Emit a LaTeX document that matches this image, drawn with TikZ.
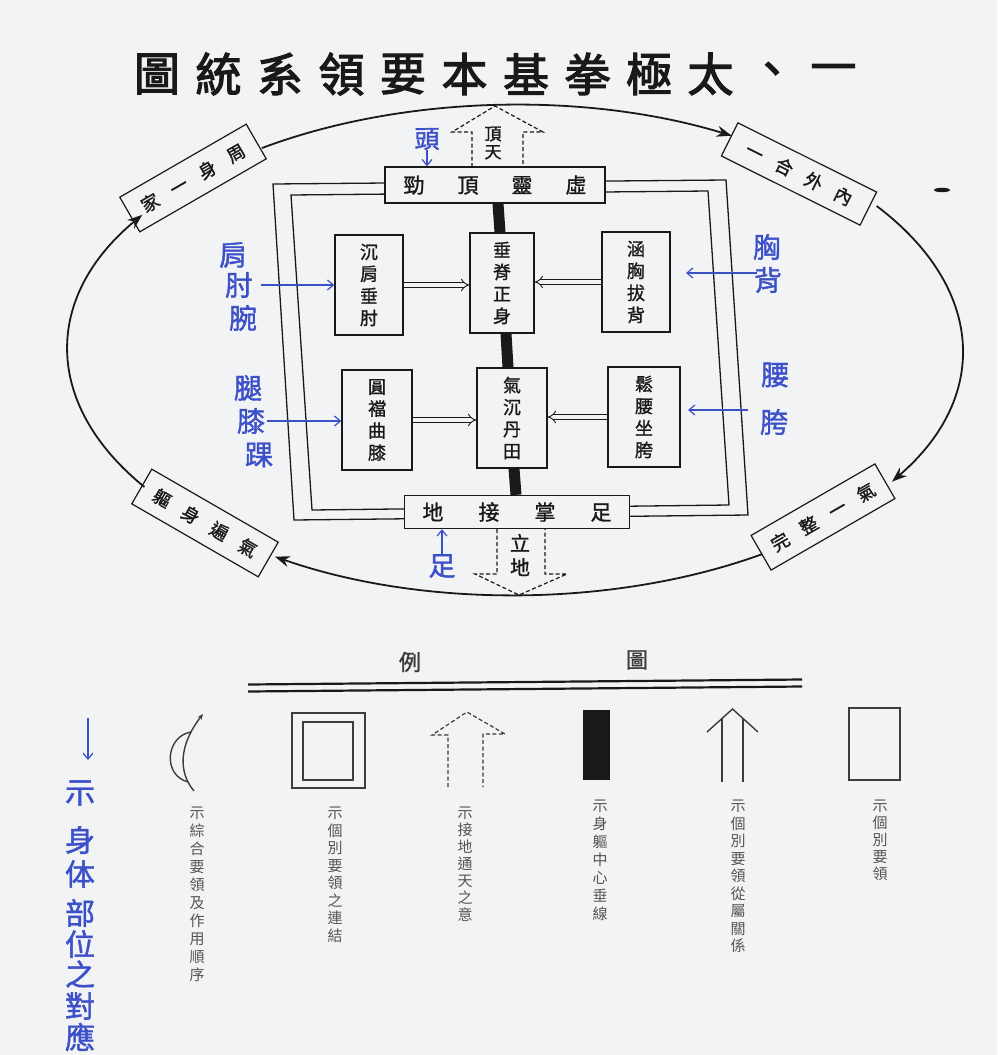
\documentclass[tikz,border=0pt]{standalone}
\usepackage{fontspec}
\usetikzlibrary{arrows.meta,calc}
\newfontfamily\cjkbox[FakeBold=1.2]{Noto Sans CJK TC}
\newfontfamily\cjktitle[FakeBold=2.5]{Noto Sans CJK TC}
\newfontfamily\cjkleg{Noto Sans CJK TC}
\newfontfamily\cjkhand[FakeBold=1.4]{Noto Sans CJK TC}
\definecolor{bg}{RGB}{242,243,245}
\definecolor{hand}{RGB}{60,80,200}
\definecolor{leg}{RGB}{85,85,85}
\definecolor{ink}{RGB}{25,25,25}
\tikzset{
  kbox/.style={draw=ink, line width=1.3pt, fill=bg, minimum width=68pt, minimum height=100pt, inner sep=0pt, align=center, font=\cjkbox\fontsize{18}{22}\selectfont, text=ink},
  hbox/.style={draw=ink, line width=1.3pt, fill=bg, inner sep=0pt, font=\cjkbox\fontsize{21}{21}\selectfont, text=ink},
  cbox/.style={draw=ink, line width=1.2pt, fill=bg, minimum width=146pt, minimum height=40pt, inner sep=0pt, font=\cjkbox\fontsize{18}{18}\selectfont, text=ink},
  frameln/.style={draw=ink, line width=1.3pt},
  dbl/.style={draw=ink, double=bg, double distance=3.5pt, line width=0.9pt, -{Implies}},
  ringarr/.style={draw=ink, line width=1.8pt, -{Stealth[length=15pt,width=11pt]}},
  dasharr/.style={draw=ink, line width=1.2pt, dash pattern=on 4pt off 2.5pt},
  centbar/.style={draw=ink, line width=11pt},
  handt/.style={text=hand, font=\cjkhand\fontsize{28}{28}\selectfont, inner sep=0pt},
  bluearr/.style={draw=hand, line width=1.2pt, -{Straight Barb[length=6pt,width=10pt]}},
  legt/.style={text=leg, align=center, inner sep=0pt, anchor=north},
  legln/.style={draw=ink!85, line width=1.4pt},
  titletxt/.style={text=ink, font=\cjktitle\fontsize{46}{46}\selectfont, inner sep=0pt},
  smallt/.style={text=ink, align=center, inner sep=0pt, font=\cjkbox\fontsize{17}{18}\selectfont}
}
\begin{document}
\begin{tikzpicture}[x=1pt,y=-1pt]
\fill[bg] (0,0) rectangle (997,1055);
\useasboundingbox (0,0) rectangle (997,1055);

% title
\foreach \ch [count=\i from 0] in {圖,統,系,領,要,本,基,拳,極,太,、,一}
  \node[titletxt] (t\i) at ({157+61.5*\i},74) {\ch};

% corner boxes of the ring
\node[cbox, rotate=30] (ctl) at (193,178) {家\hspace{15pt}一\hspace{15pt}身\hspace{15pt}周};
\node[cbox, rotate=-26.5, minimum width=155pt, minimum height=37pt] (ctr) at (799,174) {一\hspace{15pt}合\hspace{15pt}外\hspace{15pt}內};
\node[cbox, rotate=30, minimum width=143pt] (cbr) at (823,517) {完\hspace{15pt}整\hspace{15pt}一\hspace{15pt}氣};
\node[cbox, rotate=-30] (cbl) at (205,523) {軀\hspace{15pt}身\hspace{15pt}遍\hspace{15pt}氣};

% ring arcs
\coordinate (C) at (515,350);
\draw[ringarr] ($(C)+(124.5:447pt and 245pt)$) arc[start angle=124.5, end angle=61, x radius=447pt, y radius=245pt];
\draw[ringarr] ($(C)+(36:447pt and 245pt)$) arc[start angle=36, end angle=-32.5, x radius=447pt, y radius=245pt];
\draw[ringarr] ($(C)+(-56.4:447pt and 245pt)$) arc[start angle=-56.4, end angle=-122.5, x radius=447pt, y radius=245pt];
\draw[ringarr] ($(C)+(-146:447pt and 245pt)$) arc[start angle=-146, end angle=-213.5, x radius=447pt, y radius=245pt];

% double frame
\draw[frameln] (273,184) -- (726,180) -- (748,515) -- (294,520) -- cycle;
\draw[frameln] (291,195) -- (708,191) -- (729,505) -- (312,510) -- cycle;

% dashed hollow arrows
\draw[dasharr] (472,167) -- (472,132) -- (452,132) -- (495,106) -- (543,132) -- (523,132) -- (523,167);
\draw[dasharr] (497,529) -- (497,574) -- (475,574) -- (519,595) -- (567,574) -- (545,574) -- (545,529);
\node[smallt] (tt) at (493,143) {頂\\天};
\node[smallt, font=\cjkbox\fontsize{20}{24}\selectfont] (ld) at (520,555) {立\\地};

% top and bottom boxes
\node[hbox, minimum width=220pt, minimum height=36pt] (top) at (495,185) {勁\hspace{33pt}頂\hspace{33pt}靈\hspace{33pt}虛};
\node[hbox, minimum width=225pt, minimum height=33pt] (bot) at (517,512) {地\hspace{35pt}接\hspace{35pt}掌\hspace{35pt}足};

% middle boxes
\node[kbox] (l1) at (369,285) {沉\\肩\\垂\\肘};
\node[kbox, minimum width=64pt] (c1) at (502,283) {垂\\脊\\正\\身};
\node[kbox] (r1) at (636,282) {涵\\胸\\拔\\背};
\node[kbox, minimum width=70pt] (l2) at (377,420) {圓\\襠\\曲\\膝};
\node[kbox, minimum width=70pt] (c2) at (512,418) {氣\\沉\\丹\\田};
\node[kbox, minimum width=72pt] (r2) at (644,417) {鬆\\腰\\坐\\胯};

% central vertical bar
\draw[centbar] ([xshift=3pt]top.south) -- ([xshift=-2pt]c1.north);
\draw[centbar] ([xshift=4pt]c1.south) -- ([xshift=-4pt]c2.north);
\draw[centbar] ([xshift=2pt]c2.south) -- ([xshift=-1pt]bot.north);

% subordinate arrows
\draw[dbl] (l1.east) -- (l1.east -| c1.west);
\draw[dbl] (r1.west) -- (r1.west -| c1.east);
\draw[dbl] (l2.east) -- (l2.east -| c2.west);
\draw[dbl] (r2.west) -- (r2.west -| c2.east);

% blue handwritten notes
\node[handt, font=\cjkhand\fontsize{25}{25}\selectfont] (hd) at (427,139) {頭};
\draw[bluearr] (hd.south) -- (hd.south |- top.north);
\node[handt] (hj) at (233,255) {肩};
\node[handt] (hz) at (239,285) {肘};
\node[handt] (hw) at (243,318) {腕};
\draw[bluearr] ([xshift=8pt]hz.east) -- (hz.east -| l1.west);
\node[handt] (ht) at (248,388) {腿};
\node[handt] (hx) at (251,421) {膝};
\node[handt] (hk) at (259,455) {踝};
\draw[bluearr] ([xshift=2pt]hx.east) -- (hx.east -| l2.west);
\node[handt] (hc) at (767,247) {胸};
\node[handt] (hb) at (768,280) {背};
\coordinate (xb1) at (757,273);
\coordinate (xb2) at (686,273);
\draw[bluearr] (xb1) -- (xb2);
\node[handt] (hy) at (775,375) {腰};
\node[handt] (hq) at (774,422) {胯};
\coordinate (xy1) at (748,410);
\coordinate (xy2) at (688,410);
\draw[bluearr] (xy1) -- (xy2);
\node[handt, font=\cjkhand\fontsize{27}{27}\selectfont] (zu) at (442,566) {足};
\draw[bluearr] ([yshift=-1pt]zu.north) -- (zu.north |- bot.south);

% stray mark
\fill[ink] (942,190) ellipse [x radius=8pt, y radius=2.2pt];

% legend heading
\node[text=ink!85, font=\cjkbox\fontsize{22}{22}\selectfont, inner sep=0pt] (lg1) at (410,662) {例};
\node[text=ink!85, font=\cjkbox\fontsize{22}{22}\selectfont, inner sep=0pt] (lg2) at (637,660) {圖};
\draw[draw=ink, line width=2.2pt] (248,684.5) -- (802,679.5);
\draw[draw=ink, line width=2.2pt] (248,691.5) -- (802,686.5);

% legend item 1
\draw[legln, -{Stealth[length=6pt,width=5pt]}] (194,791) .. controls (178,772) and (179,745) .. (203,714);
\draw[legln] (191,732) .. controls (166,736) and (162,775) .. (188,782);
\node[legt, font=\cjkleg\fontsize{15}{18}\selectfont] (lt1) at (197,807) {示\\綜\\合\\要\\領\\及\\作\\用\\順\\序};
% legend item 2
\draw[legln] (292,713) rectangle (365,788);
\draw[legln] (303,722) rectangle (353,780);
\node[legt, font=\cjkleg\fontsize{15}{17.5}\selectfont] (lt2) at (335,807) {示\\個\\別\\要\\領\\之\\連\\結};
% legend item 3
\draw[dasharr, draw=ink!85] (448,787) -- (448,735) -- (432,735) -- (467,712) -- (505,734) -- (483,734) -- (483,787);
\node[legt, font=\cjkleg\fontsize{15}{17}\selectfont] (lt3) at (465,807) {示\\接\\地\\通\\天\\之\\意};
% legend item 4
\fill[ink] (583,710) rectangle (610,780);
\node[legt, font=\cjkleg\fontsize{15}{18}\selectfont] (lt4) at (600,800) {示\\身\\軀\\中\\心\\垂\\線};
% legend item 5
\draw[legln] (722,782) -- (722,719);
\draw[legln] (743,782) -- (743,719);
\draw[legln] (707,732) -- (732.5,709) -- (758,732);
\node[legt, font=\cjkleg\fontsize{15}{17.5}\selectfont] (lt5) at (738,800) {示\\個\\別\\要\\領\\從\\屬\\關\\係};
% legend item 6
\draw[legln] (849,708) rectangle (900,780);
\node[legt, font=\cjkleg\fontsize{15}{17}\selectfont] (lt6) at (880,800) {示\\個\\別\\要\\領};

% blue vertical note
\coordinate (ar1) at (88,718);
\coordinate (ar2) at (88,760);
\draw[bluearr] (ar1) -- (ar2);
\node[handt, font=\cjkhand\fontsize{30}{30}\selectfont] (v1) at (80,793) {示};
\node[handt, font=\cjkhand\fontsize{30}{30}\selectfont] (v2) at (80,840) {身};
\node[handt, font=\cjkhand\fontsize{30}{30}\selectfont] (v3) at (80,874) {体};
\node[handt, font=\cjkhand\fontsize{30}{30}\selectfont] (v4) at (80,913) {部};
\node[handt, font=\cjkhand\fontsize{30}{30}\selectfont] (v5) at (80,944) {位};
\node[handt, font=\cjkhand\fontsize{30}{30}\selectfont] (v6) at (80,974) {之};
\node[handt, font=\cjkhand\fontsize{30}{30}\selectfont] (v7) at (80,1006) {對};
\node[handt, font=\cjkhand\fontsize{30}{30}\selectfont] (v8) at (80,1037) {應};
\end{tikzpicture}
\end{document}
